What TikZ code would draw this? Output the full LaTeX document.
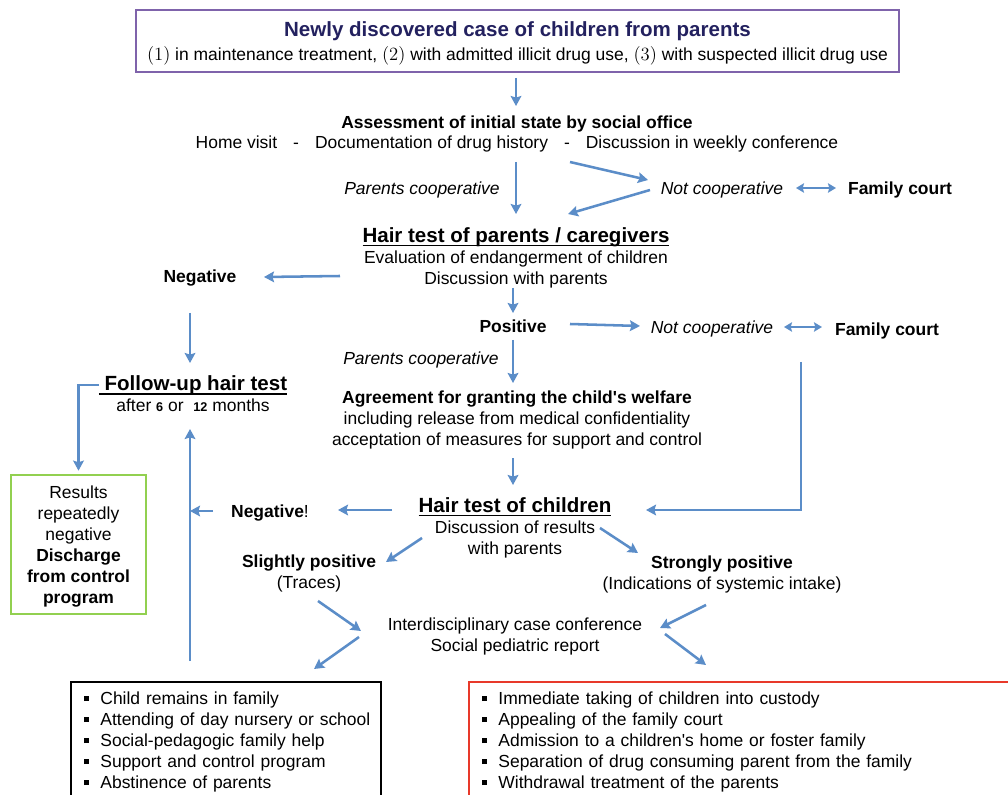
\documentclass[tikz,border=0pt]{standalone}
\usepackage{fontspec}
\setmainfont{Liberation Sans}
\newfontfamily\numfont{Latin Modern Roman}
\usetikzlibrary{arrows.meta,calc}
\definecolor{ablue}{HTML}{5B8DC8}
\definecolor{navy}{HTML}{23215F}
\definecolor{boxpurple}{HTML}{7F63AB}
\definecolor{boxgreen}{HTML}{92D050}
\definecolor{boxred}{HTML}{E8392A}
\newcommand\fsN{\fontsize{13.1}{15.75}\selectfont}
\newcommand\fsL{\fontsize{15.4}{18}\selectfont}
\newcommand\nb[1]{{\numfont\fontsize{14}{15.75}\selectfont(#1)}}
\newcommand\sqb{\rule[0.2em]{3.8pt}{3.8pt}\hspace{8.5pt}}
\newcommand\smb[1]{{\fontsize{9.5}{12}\selectfont\bfseries #1}}
\newcommand\ulb[1]{\setbox0\hbox{#1}\rlap{\rule[-3pt]{\wd0}{1.1pt}}\box0}
\newcommand\li[1]{\mbox{\sqb #1}}
\begin{document}
\begin{tikzpicture}[x=0.75pt,y=-0.75pt,
  arr/.style={draw=ablue,line width=1.9pt,-{Stealth[length=7.5pt,width=8pt,inset=1.2pt]}},
  darr/.style={draw=ablue,line width=1.9pt,{Stealth[length=6pt,width=7pt,inset=1pt]}-{Stealth[length=6pt,width=7pt,inset=1pt]}},
  txt/.style={inner sep=0pt,align=center,font=\fsN,text depth=0pt},
  topbox/.style={draw=boxpurple,line width=1.6pt,minimum width=572pt,minimum height=46.5pt,align=center,font=\fsN,inner sep=0pt,text depth=0pt},
  listbox/.style={line width=1.5pt,align=left,font=\fsN,inner xsep=9.75pt,inner ysep=7.5pt,anchor=north west}]
\clip (0,0) rectangle (1008,795);
\fill[white] (0,0) rectangle (1008,795);

\node[topbox] (top) at (517.5,41) {{\fsL\bfseries\color{navy}Newly discovered case of children from parents}\\[2.5pt]\nb{1} in maintenance treatment, \nb{2} with admitted illicit drug use, \nb{3} with suspected illicit drug use};

\node[txt] (assess) at (517,132) {\textbf{Assessment of initial state by social office}\\[-0.75pt]Home visit\hspace{12pt}-\hspace{12pt}Documentation of drug history\hspace{12pt}-\hspace{12pt}Discussion in weekly conference};
\node[txt,font=\fsN\itshape] (pc1) at (422,188) {Parents cooperative};
\node[txt,font=\fsN\itshape] (nc1) at (722,188) {Not cooperative};
\node[txt,font=\fsN\bfseries] (fc1) at (900,188) {Family court};

\node[txt] (hairp) at (516,256) {{\fsL\bfseries\ulb{Hair test of parents / caregivers}}\\Evaluation of endangerment of children\\Discussion with parents};
\node[txt,font=\fsN\bfseries] (neg1) at (200,276) {Negative};
\node[txt,font=\fsN\bfseries] (pos) at (513,326) {Positive};
\node[txt,font=\fsN\itshape] (nc2) at (712,327) {Not cooperative};
\node[txt,font=\fsN\bfseries] (fc2) at (887,329) {Family court};
\node[txt,font=\fsN\itshape] (pc2) at (421,358) {Parents cooperative};

\node[txt] (agree) at (517,418) {\textbf{Agreement for granting the child\textquotesingle s welfare}\\including release from medical confidentiality\\acceptation of measures for support and control};

\node[txt] (follow) at (193,394) {{\fsL\bfseries\ulb{\ Follow-up hair test}}\\after \smb{6} or \ \smb{12} months};

\node[draw=boxgreen,line width=2pt,minimum width=101.25pt,minimum height=104.25pt,align=center,font=\fsN,inner sep=0pt,text depth=0pt] (green) at (78.5,544.5) {Results\\repeatedly\\negative\\\textbf{Discharge}\\\textbf{from control}\\\textbf{program}};

\node[txt] (hairc) at (515,526) {{\fsL\bfseries\ulb{Hair test of children}}\\Discussion of results\\with parents};
\node[txt] (neg2) at (270,511) {\textbf{Negative}!};
\node[txt] (slight) at (309,572) {\textbf{Slightly positive}\\(Traces)};
\node[txt] (strong) at (722,573) {\textbf{Strongly positive}\\(Indications of systemic intake)};
\node[txt] (conf) at (515,635) {Interdisciplinary case conference\\Social pediatric report};

\node[listbox,draw=black,minimum width=232.5pt,text width=213pt] (boxL) at (70,681) {\li{Child remains in family}\\\li{Attending of day nursery or school}\\\li{Social-pedagogic family help}\\\li{Support and control program}\\\li{Abstinence of parents}};
\node[listbox,draw=boxred,minimum width=410pt,text width=390.5pt] (boxR) at (468,681) {\li{Immediate taking of children into custody}\\\li{Appealing of the family court}\\\li{Admission to a children\textquotesingle s home or foster family}\\\li{Separation of drug consuming parent from the family}\\\li{Withdrawal treatment of the parents}};

\draw[arr] ($(top)+(-1.5,37)$) -- ($(assess)+(-1,-26)$);
\draw[arr] ($(assess)+(-1,30)$) -- ($(hairp)+(0,-42)$);
\draw[arr] ($(assess)+(53,30)$) -- ($(nc1)+(-74,-8)$);
\draw[arr] ($(nc1)+(-72,2)$) -- ($(hairp)+(52,-42)$);
\draw[darr] ($(nc1)+(74,0)$) -- ($(fc1)+(-64,0)$);
\draw[arr] ($(hairp)+(-176,20)$) -- ($(neg1)+(64,1)$);
\draw[arr] ($(neg1)+(-10,37)$) -- ($(follow)+(-3,-31)$);
\draw[arr] ($(hairp)+(-3,32)$) -- ($(pos)+(0,-13)$);
\draw[arr] ($(pos)+(57,-2)$) -- ($(nc2)+(-72,-1)$);
\draw[darr] ($(nc2)+(72,0)$) -- ($(fc2)+(-65,-2)$);
\draw[arr] ($(pos)+(0,14)$) -- ($(agree)+(-4,-35)$);
\draw[arr] ($(fc2)+(-86,33)$) |- ($(hairc)+(131,-16)$);
\draw[arr] ($(agree)+(-4,40)$) -- ($(hairc)+(-2,-41)$);
\draw[arr] ($(follow)+(-94,-9)$) -| ($(green.north)+(0,-3)$);
\draw[arr] ($(hairc)+(-123,-16)$) -- ($(neg2)+(68,-1)$);
\draw[arr] ($(neg2)+(-57,0)$) -- ($(follow)+(-3,117)$);
\draw[arr] ($(boxL.north west)+(120,-20)$) -- ($(follow)+(-3,35)$);
\draw[arr] ($(hairc)+(-93,12)$) -- ($(slight)+(77,-10)$);
\draw[arr] ($(hairc)+(85,2)$) -- ($(strong)+(-84,-20)$);
\draw[arr] ($(slight)+(9,29)$) -- ($(conf)+(-154,-4)$);
\draw[arr] ($(strong)+(-16,32)$) -- ($(conf)+(145,-7)$);
\draw[arr] ($(conf)+(-156,2)$) -- ($(boxL.north west)+(244,-12)$);
\draw[arr] ($(conf)+(150,-1)$) -- ($(boxR.north west)+(238,-16)$);
\end{tikzpicture}
\end{document}
